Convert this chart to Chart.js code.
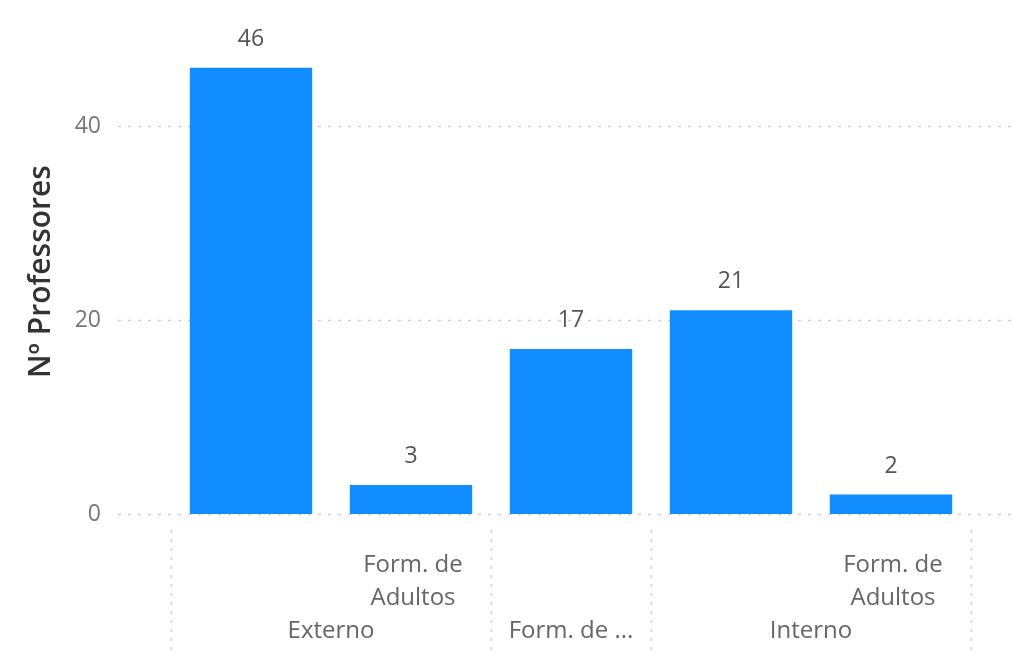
<!DOCTYPE html>
<html>
<head>
<meta charset="utf-8">
<script src="https://cdn.jsdelivr.net/npm/chart.js@4/dist/chart.umd.min.js"></script>
<style>
  html, body { margin: 0; padding: 0; background: #fff; }
  #wrap { width: 1014px; height: 660px; position: relative; }
</style>
</head>
<body>
<div id="wrap"><canvas id="profChart"></canvas></div>
<script>
// data
const outerGroups = ['Externo', 'Externo', 'Form. de ...', 'Interno', 'Interno'];
const innerLabels = [[], ['Form. de', 'Adultos'], [], [], ['Form. de', 'Adultos']];
const professores = [46, 3, 17, 21, 2];
const yTicks = [0, 20, 40];

const FONT = '"Segoe UI", "Open Sans", sans-serif';
const barColor = '#118DFF';

// dotted gridlines that run past the plot like in Power BI
const gridPlugin = {
  id: 'dottedGrid',
  beforeDatasetsDraw(chart) {
    const ctx = chart.ctx;
    const y = chart.scales.y;
    ctx.save();
    ctx.strokeStyle = '#cfcfcf';
    ctx.lineWidth = 1.5;
    ctx.setLineDash([3, 7]);
    yTicks.forEach(v => {
      const py = Math.round(y.getPixelForValue(v)) + 0.5;
      ctx.beginPath();
      ctx.moveTo(118, py);
      ctx.lineTo(chart.width, py);
      ctx.stroke();
    });
    ctx.restore();
  }
};

// value labels above bars
const valuePlugin = {
  id: 'valueLabels',
  afterDatasetsDraw(chart) {
    const ctx = chart.ctx;
    ctx.save();
    ctx.font = '23px ' + FONT;
    ctx.fillStyle = '#555';
    ctx.textAlign = 'center';
    ctx.textBaseline = 'alphabetic';
    chart.getDatasetMeta(0).data.forEach((bar, i) => {
      ctx.fillText(String(professores[i]), bar.x, bar.y - 22);
    });
    ctx.restore();
  }
};

// two-level category axis
const hierAxisPlugin = {
  id: 'hierAxis',
  afterDraw(chart) {
    const ctx = chart.ctx;
    const x = chart.scales.x;
    const bottom = chart.chartArea.bottom;
    const half = (x.getPixelForValue(1) - x.getPixelForValue(0)) / 2;
    ctx.save();

    // inner labels
    ctx.font = '24px ' + FONT;
    ctx.fillStyle = '#666';
    ctx.textAlign = 'center';
    ctx.textBaseline = 'alphabetic';
    innerLabels.forEach((lines, i) => {
      const cx = x.getPixelForValue(i) + 2;
      lines.forEach((t, k) => ctx.fillText(t, cx, bottom + 58 + k * 33));
    });

    // group spans
    const groups = [];
    outerGroups.forEach((g, i) => {
      const last = groups[groups.length - 1];
      if (last && last.name === g) last.end = i;
      else groups.push({ name: g, start: i, end: i });
    });

    ctx.strokeStyle = '#d4d4d4';
    ctx.lineWidth = 1.5;
    ctx.setLineDash([3, 6]);
    const edges = new Set();
    groups.forEach(g => {
      const l = x.getPixelForValue(g.start) - half;
      const r = x.getPixelForValue(g.end) + half;
      edges.add(Math.round(l));
      edges.add(Math.round(r));
      ctx.fillText(g.name, (l + r) / 2, bottom + 124);
    });
    edges.forEach(px => {
      ctx.beginPath();
      ctx.moveTo(px + 0.5, bottom + 16);
      ctx.lineTo(px + 0.5, bottom + 142);
      ctx.stroke();
    });
    ctx.restore();
  }
};

const ctx = document.getElementById('profChart').getContext('2d');
window.chart = new Chart(ctx, {
  type: 'bar',
  data: {
    labels: outerGroups.map((g, i) => g + ' ' + innerLabels[i].join(' ')),
    datasets: [{
      label: 'Nº Professores',
      data: professores,
      backgroundColor: barColor,
      barPercentage: 0.765,
      categoryPercentage: 1
    }]
  },
  options: {
    responsive: true,
    maintainAspectRatio: false,
    animation: false,
    layout: { padding: { top: 29, right: 43, bottom: 146, left: 0 } },
    plugins: {
      legend: { display: false },
      tooltip: { enabled: false }
    },
    scales: {
      x: { display: false },
      y: {
        min: 0,
        max: 50,
        afterBuildTicks: axis => { axis.ticks = yTicks.map(v => ({ value: v })); },
        afterFit: scale => {
          scale.width = 171;
          scale.paddingTop = 0;
          scale.paddingBottom = 0;
        },
        grid: { display: false, drawTicks: false },
        border: { display: false },
        ticks: {
          color: '#777',
          font: { family: FONT, size: 23 },
          padding: 70
        },
        title: {
          display: true,
          text: 'Nº Professores',
          color: '#333',
          font: { family: FONT, size: 30, weight: '600' },
          padding: { top: 23, bottom: 0 }
        }
      }
    }
  },
  plugins: [gridPlugin, valuePlugin, hierAxisPlugin]
});
</script>
</body>
</html>
